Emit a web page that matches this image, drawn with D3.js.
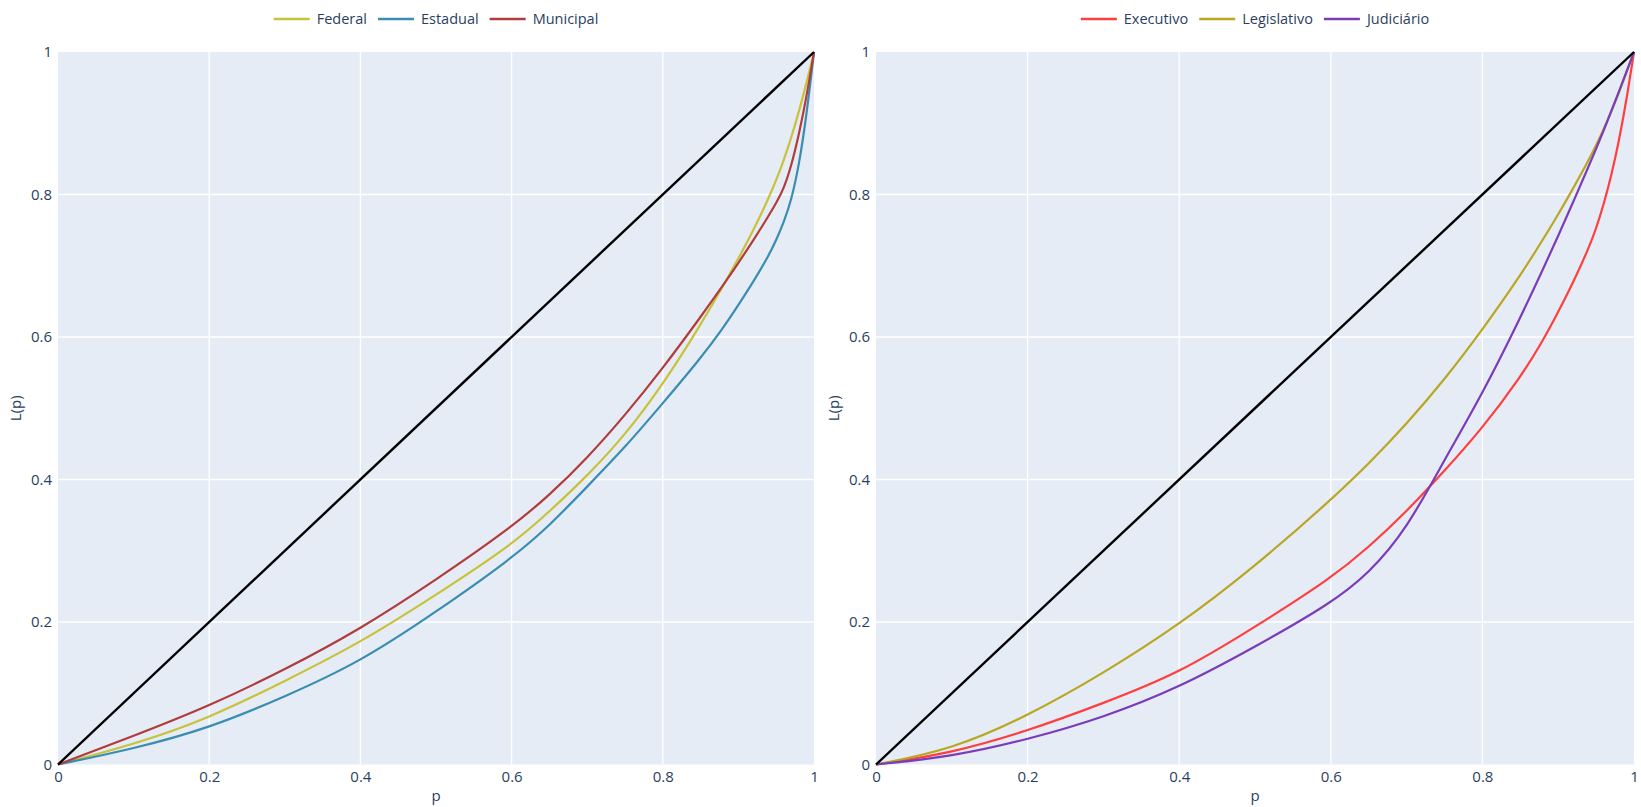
<!DOCTYPE html>
<html>
<head>
<meta charset="utf-8">
<script src="https://cdn.jsdelivr.net/npm/d3@7"></script>
<style>
  html, body { margin: 0; padding: 0; background: #fff; }
  svg { display: block; font-family: "Open Sans", "DejaVu Sans", sans-serif; }
</style>
</head>
<body>
<div id="chart"></div>
<script>
// shared p grid (fraction of population)
const P = [0, 0.1, 0.2, 0.3, 0.4, 0.5, 0.6, 0.65, 0.7, 0.75, 0.8, 0.85, 0.88, 0.9, 0.92, 0.94, 0.95, 0.96, 0.97, 0.98, 0.99, 1];

// left panel: esfera
const federal   = [0, 0.028, 0.065, 0.117, 0.171, 0.238, 0.308, 0.355, 0.405, 0.462, 0.533, 0.617, 0.672, 0.710, 0.750, 0.795, 0.820, 0.848, 0.880, 0.916, 0.956, 1];
const estadual  = [0, 0.022, 0.051, 0.095, 0.144, 0.214, 0.289, 0.335, 0.390, 0.445, 0.507, 0.570, 0.613, 0.645, 0.678, 0.714, 0.736, 0.761, 0.792, 0.840, 0.910, 1];
const municipal = [0, 0.040, 0.082, 0.133, 0.190, 0.259, 0.333, 0.378, 0.430, 0.490, 0.556, 0.628, 0.673, 0.704, 0.736, 0.770, 0.788, 0.808, 0.840, 0.884, 0.936, 1];

// right panel: poder
const executivo   = [0, 0.016, 0.047, 0.086, 0.128, 0.193, 0.261, 0.305, 0.355, 0.412, 0.472, 0.543, 0.595, 0.635, 0.677, 0.724, 0.752, 0.786, 0.826, 0.874, 0.932, 1];
const legislativo = [0, 0.021, 0.068, 0.128, 0.196, 0.278, 0.371, 0.422, 0.478, 0.540, 0.610, 0.686, 0.737, 0.772, 0.809, 0.848, 0.869, 0.891, 0.916, 0.943, 0.971, 1];
const judiciario  = [0, 0.011, 0.035, 0.066, 0.108, 0.165, 0.226, 0.268, 0.330, 0.428, 0.520, 0.627, 0.695, 0.742, 0.790, 0.839, 0.864, 0.890, 0.917, 0.944, 0.972, 1];

const equality = [0, 1];
const ticks = [0, 0.2, 0.4, 0.6, 0.8, 1];

const W = 1641, H = 807;
const TOP = 52, BOTTOM = 764.5;
const TEXT = '#2a3f5f';

const panels = [
  { x0: 58, x1: 814, series: [
    { name: 'Federal', values: federal, color: '#c8c23a' },
    { name: 'Estadual', values: estadual, color: '#3a8db0' },
    { name: 'Municipal', values: municipal, color: '#b03c3c' }
  ]},
  { x0: 876, x1: 1634, series: [
    { name: 'Executivo', values: executivo, color: '#ff3f3f' },
    { name: 'Legislativo', values: legislativo, color: '#b9a722' },
    { name: 'Judiciário', values: judiciario, color: '#7a3cb8' }
  ]}
];

const svg = d3.select('#chart').append('svg')
  .attr('width', W)
  .attr('height', H);

const fmt = d3.format('~g');

panels.forEach(panel => {
  const x = d3.scaleLinear().domain([0, 1]).range([panel.x0, panel.x1]);
  const y = d3.scaleLinear().domain([0, 1]).range([BOTTOM, TOP]);

  const g = svg.append('g');

  g.append('rect')
    .attr('x', panel.x0)
    .attr('y', TOP)
    .attr('width', panel.x1 - panel.x0)
    .attr('height', BOTTOM - TOP)
    .attr('fill', '#e5ecf6');

  // grid
  g.append('g').selectAll('line')
    .data(ticks.slice(1, -1))
    .join('line')
    .attr('x1', d => x(d)).attr('x2', d => x(d))
    .attr('y1', TOP).attr('y2', BOTTOM)
    .attr('stroke', '#fff').attr('stroke-width', 1.3);

  g.append('g').selectAll('line')
    .data(ticks.slice(1, -1))
    .join('line')
    .attr('x1', panel.x0).attr('x2', panel.x1)
    .attr('y1', d => y(d)).attr('y2', d => y(d))
    .attr('stroke', '#fff').attr('stroke-width', 1.3);

  // axes (labels only)
  const xAxis = g.append('g')
    .attr('transform', `translate(0, ${BOTTOM})`)
    .call(d3.axisBottom(x).tickValues(ticks).tickFormat(fmt).tickSize(0).tickPadding(7));
  const yAxis = g.append('g')
    .attr('transform', `translate(${panel.x0}, 0)`)
    .call(d3.axisLeft(y).tickValues(ticks).tickFormat(fmt).tickSize(0).tickPadding(6));

  [xAxis, yAxis].forEach(a => {
    a.select('.domain').remove();
    a.selectAll('text')
      .attr('fill', TEXT)
      .style('font-size', '15px')
      .style('font-family', '"Open Sans", sans-serif');
  });

  // axis titles
  g.append('text')
    .attr('x', (panel.x0 + panel.x1) / 2)
    .attr('y', 801)
    .attr('text-anchor', 'middle')
    .attr('fill', TEXT)
    .style('font-size', '15px')
    .text('p');

  g.append('text')
    .attr('transform', `translate(${panel.x0 - 37}, ${(TOP + BOTTOM) / 2}) rotate(-90)`)
    .attr('text-anchor', 'middle')
    .attr('fill', TEXT)
    .style('font-size', '15px')
    .text('L(p)');

  const line = d3.line()
    .x(d => x(d[0]))
    .y(d => y(d[1]))
    .curve(d3.curveBasis);

  const lines = g.append('g');

  panel.series.forEach(s => {
    lines.append('path')
      .datum(P.map((p, i) => [p, s.values[i]]))
      .attr('fill', 'none')
      .attr('stroke', s.color)
      .attr('stroke-width', 2.2)
      .attr('stroke-linejoin', 'round')
      .attr('d', line);
  });

  // line of equality
  lines.append('path')
    .datum(equality.map(v => [v, v]))
    .attr('fill', 'none')
    .attr('stroke', '#000')
    .attr('stroke-width', 2.4)
    .attr('d', line);

  // legend, centred over the panel
  const legend = g.append('g');
  let cx = 0;
  panel.series.forEach(s => {
    const item = legend.append('g').attr('transform', `translate(${cx}, 0)`);
    item.append('line')
      .attr('x1', 0).attr('x2', 36)
      .attr('y1', 0).attr('y2', 0)
      .attr('stroke', s.color)
      .attr('stroke-width', 2.4);
    const t = item.append('text')
      .attr('x', 43)
      .attr('dy', '0.35em')
      .attr('fill', TEXT)
      .style('font-size', '14.5px')
      .text(s.name);
    cx += 43 + t.node().getComputedTextLength() + 11;
  });
  const lw = cx - 11;
  legend.attr('transform', `translate(${(panel.x0 + panel.x1) / 2 - lw / 2}, 19)`);
});
</script>
</body>
</html>
